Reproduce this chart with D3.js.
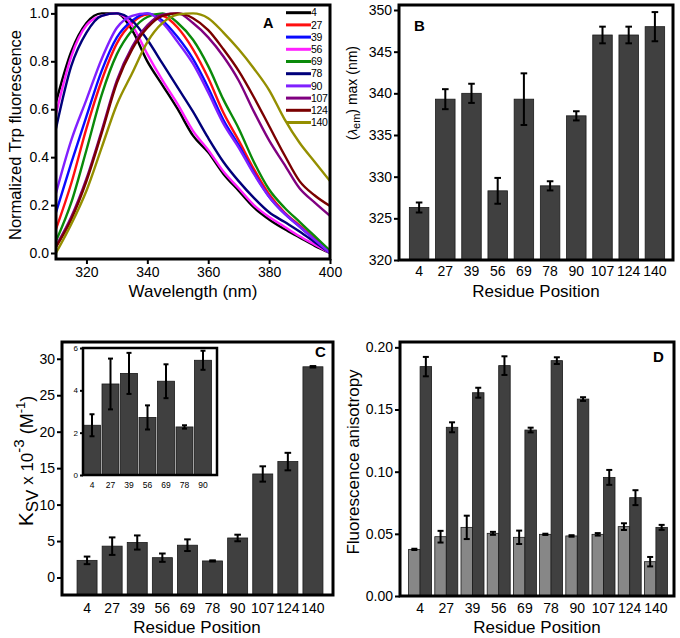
<!DOCTYPE html>
<html><head><meta charset="utf-8">
<script src="https://cdn.jsdelivr.net/npm/d3@7"></script>
<style>body{margin:0;background:#fff}</style>
</head><body><svg id="c" width="680" height="638"></svg>
<script>
// ---------- DATA ----------
const wavelengths = [310,315,320,325,330,335,340,345,350,355,360,365,370,375,380,385,390,395,400];
const spec4   = [0.63,0.84,0.96,1.00,1.00,0.93,0.80,0.70,0.60,0.49,0.42,0.33,0.26,0.19,0.14,0.10,0.065,0.03,0.0];
const spec27  = [0.10,0.29,0.52,0.72,0.875,0.96,0.995,0.99,0.94,0.85,0.73,0.585,0.47,0.35,0.245,0.17,0.115,0.06,0.0];
const spec39  = [0.17,0.375,0.57,0.76,0.90,0.97,1.00,0.97,0.90,0.81,0.69,0.555,0.45,0.335,0.235,0.165,0.11,0.055,0.0];
const spec56  = [0.58,0.82,0.95,0.99,1.00,0.95,0.83,0.72,0.62,0.51,0.43,0.34,0.27,0.20,0.15,0.11,0.07,0.035,0.0];
const spec69  = [0.05,0.21,0.43,0.66,0.83,0.93,0.985,1.00,0.96,0.89,0.78,0.64,0.52,0.38,0.265,0.19,0.13,0.07,0.01];
const spec78  = [0.52,0.78,0.92,0.99,1.00,0.97,0.89,0.79,0.69,0.59,0.48,0.38,0.30,0.23,0.17,0.13,0.09,0.045,0.0];
const spec90  = [0.25,0.47,0.64,0.81,0.94,0.99,1.00,0.96,0.88,0.79,0.67,0.54,0.44,0.33,0.235,0.165,0.11,0.055,0.0];
const spec107 = [0.03,0.15,0.31,0.51,0.72,0.86,0.95,0.995,1.00,0.96,0.90,0.82,0.72,0.59,0.47,0.37,0.27,0.21,0.155];
const spec124 = [0.025,0.14,0.30,0.50,0.71,0.85,0.94,0.99,1.00,0.98,0.93,0.85,0.76,0.65,0.53,0.41,0.30,0.24,0.196];
const spec140 = [0.0,0.12,0.26,0.44,0.62,0.75,0.88,0.96,0.995,1.00,0.98,0.92,0.85,0.77,0.68,0.56,0.46,0.38,0.30];
const specLabels = ["4","27","39","56","69","78","90","107","124","140"];
const specColors = ["#000000","#ff1010","#0a0aff","#ff20ff","#0a8a0a","#00007a","#8020ff","#800080","#7a0000","#948f00"];

const residues = ["4","27","39","56","69","78","90","107","124","140"];
const lambdaMax    = [326.3,339.3,340.0,328.3,339.3,328.9,337.3,347.0,347.0,348.0];
const lambdaMaxErr = [0.6,1.2,1.15,1.55,3.1,0.55,0.55,1.0,1.0,1.75];

const ksv    = [2.35,4.3,4.8,2.72,4.43,2.27,5.42,14.2,15.9,28.9];
const ksvErr = [0.52,1.2,0.97,0.57,0.8,0.08,0.45,1.05,1.2,0.1];
const insetResidues = ["4","27","39","56","69","78","90"];

const anisoLight    = [0.0375,0.0477,0.0552,0.0504,0.0472,0.0496,0.0483,0.0496,0.0558,0.0276];
const anisoLightErr = [0.0005,0.0047,0.0094,0.0012,0.0054,0.0005,0.0006,0.001,0.0027,0.0038];
const anisoDark     = [0.1845,0.1357,0.1635,0.1853,0.1335,0.1893,0.1584,0.0954,0.0791,0.0552];
const anisoDarkErr  = [0.0078,0.004,0.004,0.0075,0.0019,0.0027,0.0015,0.006,0.006,0.002];

// ---------- HELPERS ----------
const FONT = '"Liberation Sans", Arial, Helvetica, sans-serif';
const DARK = "#404040", LIGHT = "#878787";
const svg = d3.select("#c");

function frame(x0,y0,x1,y1,sw){
  svg.append("rect").attr("x",x0).attr("y",y0).attr("width",x1-x0).attr("height",y1-y0)
    .attr("fill","none").attr("stroke","#000").attr("stroke-width",sw);
}
function yAxis(scale,x0,ticks,fmt,fs,size){
  const a = svg.append("g").attr("transform",`translate(${x0},0)`)
    .call(d3.axisLeft(scale).tickValues(ticks).tickFormat(fmt).tickSize(size||5).tickPadding(2));
  a.select(".domain").remove();
  a.selectAll("line").attr("stroke","#000").attr("stroke-width",2);
  a.selectAll("text").attr("font-size",fs).attr("font-family",FONT).attr("fill","#000");
}
function xAxisLabels(scale,cats,y,fs){
  svg.append("g").selectAll("text").data(cats).join("text")
    .attr("x",d=>scale(d)+scale.bandwidth()/2).attr("y",y)
    .attr("text-anchor","middle").attr("font-size",fs).attr("font-family",FONT).text(d=>d);
}
function text(x,y,s,fs,opts){
  const t = svg.append("text").attr("x",x).attr("y",y).attr("font-size",fs).attr("font-family",FONT).text(s);
  if(opts&&opts.bold) t.attr("font-weight","bold");
  if(opts&&opts.anchor) t.attr("text-anchor",opts.anchor);
  return t;
}
function errBars(cx,vals,errs,y,cap){
  const g = svg.append("g").attr("stroke","#000").attr("stroke-width",2);
  vals.forEach((v,i)=>{
    const x = cx(i), y1 = y(v-errs[i]), y2 = y(v+errs[i]);
    g.append("line").attr("x1",x).attr("x2",x).attr("y1",y1).attr("y2",y2);
    g.append("line").attr("x1",x-cap).attr("x2",x+cap).attr("y1",y1).attr("y2",y1);
    g.append("line").attr("x1",x-cap).attr("x2",x+cap).attr("y1",y2).attr("y2",y2);
  });
}

// ---------- PANEL A ----------
(function(){
  const x = d3.scaleLinear().domain([310,400]).range([56,330]);
  const y = d3.scaleLinear().domain([-0.025,1.035]).range([259,5]);
  svg.append("clipPath").attr("id","clipA").append("rect").attr("x",56).attr("y",5).attr("width",274).attr("height",254);
  const specs = [spec4,spec27,spec39,spec56,spec69,spec78,spec90,spec107,spec124,spec140];
  const line = d3.line().x((d,i)=>x(wavelengths[i])).y(d=>y(d)).curve(d3.curveMonotoneX);
  const g = svg.append("g").attr("clip-path","url(#clipA)");
  specs.forEach((s,k)=>{
    g.append("path").attr("d",line(s)).attr("fill","none").attr("stroke",specColors[k]).attr("stroke-width",2.4);
  });
  frame(56,5,330,259,3);
  yAxis(y,56,[0,0.2,0.4,0.6,0.8,1.0],d3.format(".1f"),14);
  const xa = svg.append("g").attr("transform","translate(0,259)")
    .call(d3.axisBottom(x).tickValues([320,340,360,380,400]).tickSize(5).tickPadding(3));
  xa.select(".domain").remove();
  xa.selectAll("line").attr("stroke","#000").attr("stroke-width",2);
  xa.selectAll("text").attr("font-size",14).attr("font-family",FONT).attr("fill","#000").attr("dy","0.71em");
  text(193,297,"Wavelength (nm)",17,{anchor:"middle"});
  svg.append("text").attr("transform","translate(20.5,135) rotate(-90)").attr("text-anchor","middle")
    .attr("font-size",16.5).attr("font-family",FONT).text("Normalized Trp fluorescence");
  text(263,28,"A",14.5,{bold:true});
  const lg = svg.append("g");
  specLabels.forEach((lab,i)=>{
    const yy = 12.7 + i*12.2;
    lg.append("line").attr("x1",286).attr("x2",311).attr("y1",yy).attr("y2",yy)
      .attr("stroke",specColors[i]).attr("stroke-width",3);
    lg.append("text").attr("x",311).attr("y",yy+3.6).attr("font-size",10.5)
      .attr("letter-spacing","-0.4").attr("font-family",FONT).text(lab);
  });
})();

// ---------- PANEL B ----------
(function(){
  const x = d3.scaleBand().domain(residues).range([406,668]).padding(0);
  const y = d3.scaleLinear().domain([320,350.6]).range([260,5]);
  const bw = 19.5;
  svg.append("g").selectAll("rect").data(lambdaMax).join("rect")
    .attr("x",(d,i)=>x(residues[i])+x.bandwidth()/2-bw/2).attr("width",bw)
    .attr("y",d=>y(d)).attr("height",d=>y(320)-y(d))
    .attr("fill",DARK).attr("stroke","#1a1a1a").attr("stroke-width",0.8);
  errBars(i=>x(residues[i])+x.bandwidth()/2,lambdaMax,lambdaMaxErr,y,3.3);
  frame(399,5,673,260,3);
  yAxis(y,399,[320,325,330,335,340,345,350],d3.format("d"),14);
  xAxisLabels(x,residues,276,14);
  text(536,297,"Residue Position",17,{anchor:"middle"});
  const t = svg.append("text").attr("transform","translate(357,93) rotate(-90)").attr("text-anchor","middle")
    .attr("font-size",14).attr("font-family",FONT);
  t.append("tspan").text("(");
  t.append("tspan").attr("font-style","italic").attr("font-size",13).text("λ");
  t.append("tspan").attr("font-size",11).attr("dy",3).text("em");
  t.append("tspan").attr("dy",-3).text(") max (nm)");
  text(414,31,"B",15,{bold:true});
})();

// ---------- PANEL C ----------
(function(){
  const x = d3.scaleBand().domain(residues).range([74.5,325.5]).padding(0);
  const y = d3.scaleLinear().domain([-2.4,32.3]).range([595,342]);
  const bw = 20;
  svg.append("g").selectAll("rect").data(ksv).join("rect")
    .attr("x",(d,i)=>x(residues[i])+x.bandwidth()/2-bw/2).attr("width",bw)
    .attr("y",d=>y(d)).attr("height",d=>y(-2.4)-y(d))
    .attr("fill",DARK).attr("stroke","#1a1a1a").attr("stroke-width",0.8);
  errBars(i=>x(residues[i])+x.bandwidth()/2,ksv,ksvErr,y,3.3);
  frame(62,342,333,595,3);
  yAxis(y,62,[0,5,10,15,20,25,30],d3.format("d"),14);
  xAxisLabels(x,residues,612.5,14);
  text(197,633,"Residue Position",17,{anchor:"middle"});
  const t = svg.append("text").attr("transform","translate(33,461) rotate(-90)").attr("text-anchor","middle")
    .attr("font-size",21).attr("font-family",FONT);
  t.append("tspan").text("K");
  t.append("tspan").attr("font-size",17).attr("dy",5).text("SV");
  t.append("tspan").attr("font-size",17).attr("dy",-5).text(" x 10");
  t.append("tspan").attr("font-size",15).attr("dy",-9).text("-3");
  t.append("tspan").attr("font-size",18).attr("dy",9).text(" (M");
  t.append("tspan").attr("font-size",13).attr("dy",-8).text("-1");
  t.append("tspan").attr("font-size",18).attr("dy",8).text(")");
  text(315,357.3,"C",15,{bold:true});

  // inset
  const ksvInset = ksv.slice(0,7), ksvInsetErr = ksvErr.slice(0,7);
  const xi = d3.scaleBand().domain(insetResidues).range([82.75,212.25]).padding(0);
  const yi = d3.scaleLinear().domain([0,6]).range([475,348]);
  svg.append("rect").attr("x",83).attr("y",348).attr("width",134).attr("height",127).attr("fill","#fff");
  const ibw = 17;
  svg.append("g").selectAll("rect").data(ksvInset).join("rect")
    .attr("x",(d,i)=>xi(insetResidues[i])+xi.bandwidth()/2-ibw/2).attr("width",ibw)
    .attr("y",d=>yi(d)).attr("height",d=>yi(0)-yi(d))
    .attr("fill",DARK).attr("stroke","#1a1a1a").attr("stroke-width",0.8);
  errBars(i=>xi(insetResidues[i])+xi.bandwidth()/2,ksvInset,ksvInsetErr,yi,2.5);
  frame(83,348,217,475,2.5);
  yAxis(yi,83,[0,2,4,6],d3.format("d"),8,3);
  xAxisLabels(xi,insetResidues,488,8.5);
})();

// ---------- PANEL D ----------
(function(){
  const x = d3.scaleBand().domain(residues).range([407,669]).padding(0);
  const y = d3.scaleLinear().domain([0,0.2043]).range([596,342]);
  const bw = 11.5;
  const cx = i=>x(residues[i])+x.bandwidth()/2;
  svg.append("g").selectAll("rect").data(anisoLight).join("rect")
    .attr("x",(d,i)=>cx(i)-bw).attr("width",bw)
    .attr("y",d=>y(d)).attr("height",d=>y(0)-y(d))
    .attr("fill",LIGHT).attr("stroke","#1a1a1a").attr("stroke-width",0.8);
  svg.append("g").selectAll("rect").data(anisoDark).join("rect")
    .attr("x",(d,i)=>cx(i)).attr("width",bw)
    .attr("y",d=>y(d)).attr("height",d=>y(0)-y(d))
    .attr("fill",DARK).attr("stroke","#1a1a1a").attr("stroke-width",0.8);
  errBars(i=>cx(i)-bw/2,anisoLight,anisoLightErr,y,3);
  errBars(i=>cx(i)+bw/2,anisoDark,anisoDarkErr,y,3);
  frame(400,342,674,596,3);
  yAxis(y,400,[0,0.05,0.10,0.15,0.20],d3.format(".2f"),14);
  xAxisLabels(x,residues,613,14);
  text(537,633,"Residue Position",17,{anchor:"middle"});
  svg.append("text").attr("transform","translate(359,462) rotate(-90)").attr("text-anchor","middle")
    .attr("font-size",17).attr("font-family",FONT).text("Fluorescence anisotropy");
  text(653,361.7,"D",15,{bold:true});
})();
</script>
</body></html>
